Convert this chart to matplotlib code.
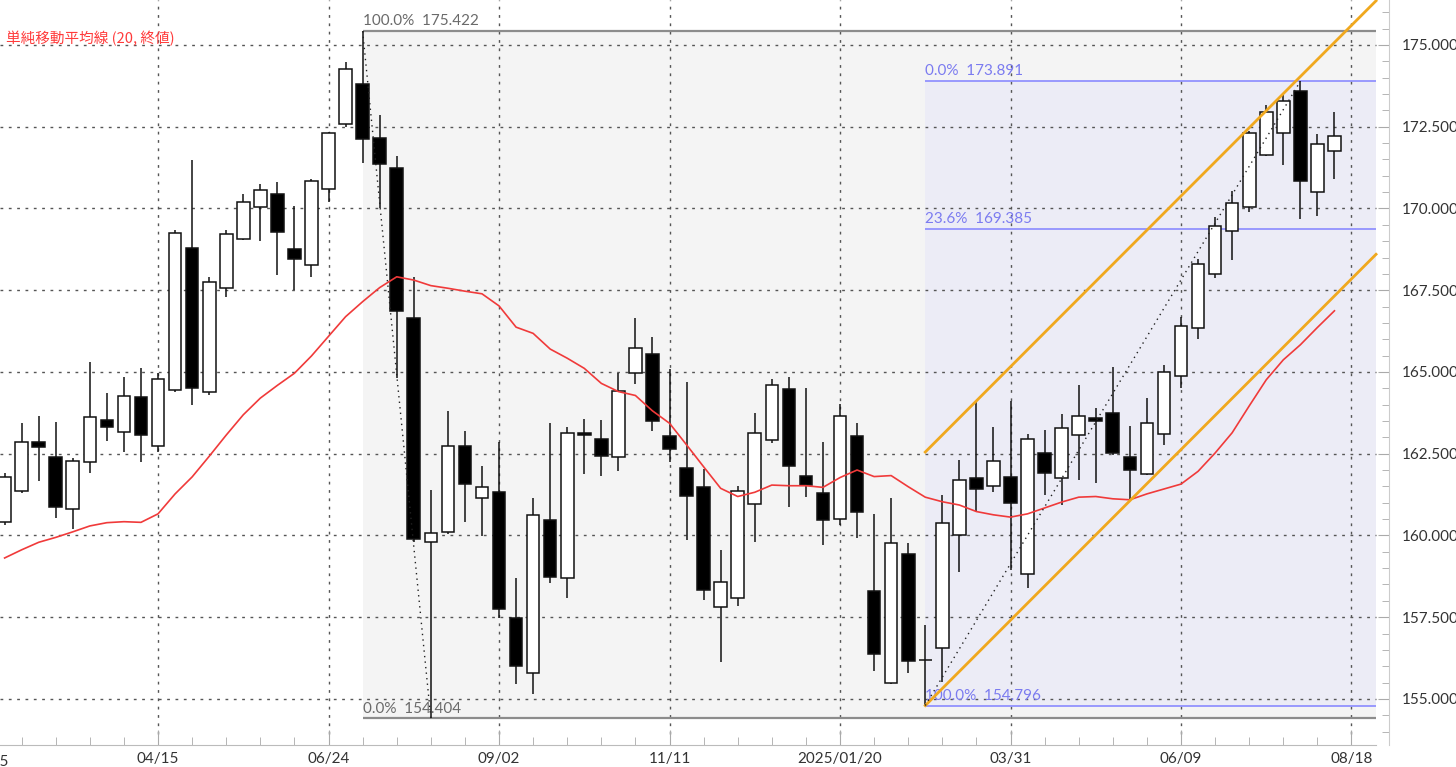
import numpy as np
import matplotlib
matplotlib.use("Agg")
import matplotlib.pyplot as plt
from matplotlib.patches import Rectangle

plt.rcParams['font.family'] = ['Lato', 'DejaVu Sans']

# weekly candles, index 0 = week of 2024-04-15 (first one is 2024-02-12)
idx = np.arange(-9, 70)

opens = [160.42, 161.37, 162.87, 162.41, 160.81, 162.24, 163.53, 163.17, 164.23,
         162.72, 164.45, 168.78, 164.38, 167.58, 169.06, 170.04, 170.44, 168.75, 168.27,
         170.60, 172.58, 173.80, 172.15, 171.23, 166.66, 159.79, 160.09, 162.72, 161.14,
         161.32, 157.47, 155.80, 160.47, 158.69, 163.13, 162.94, 162.39, 164.96, 165.54,
         163.05, 162.05, 161.47, 157.80, 158.08, 160.96, 162.92, 164.48, 161.82, 161.29,
         160.50, 163.05, 158.31, 155.50, 159.42, 156.20, 156.55, 160.02, 161.77, 161.52,
         161.80, 158.82, 162.53, 161.75, 163.07, 163.60, 163.74, 162.39, 161.88, 163.09,
         164.88, 166.34, 168.00, 169.32, 170.06, 171.64, 172.30, 173.59, 170.50, 171.77]
highs = [161.92, 163.43, 163.66, 163.46, 162.36, 165.30, 164.37, 164.86, 165.13,
         164.96, 169.34, 171.48, 167.91, 169.34, 170.43, 170.74, 170.82, 170.08, 170.90,
         172.35, 174.47, 175.422, 172.86, 171.61, 167.91, 161.39, 163.81, 163.18, 162.13,
         162.87, 158.69, 161.14, 163.45, 163.33, 163.56, 163.53, 164.96, 166.64, 166.06,
         165.09, 164.70, 162.02, 159.54, 161.51, 163.74, 164.78, 164.84, 164.52, 162.85,
         164.01, 163.43, 160.65, 161.14, 159.78, 157.26, 161.24, 162.31, 164.12, 163.33,
         164.12, 163.09, 163.23, 163.72, 164.60, 163.89, 165.16, 163.35, 164.20, 165.21,
         166.69, 168.45, 169.75, 170.54, 172.38, 173.17, 173.47, 173.891, 172.28, 172.94]
lows = [160.32, 161.30, 161.65, 160.53, 160.19, 161.92, 162.90, 162.56, 162.26,
        162.56, 164.40, 163.99, 164.30, 167.30, 169.04, 169.02, 167.97, 167.51, 167.91,
        170.21, 172.50, 171.40, 170.00, 164.81, 159.80, 154.404, 160.05, 160.42, 159.98,
        157.48, 155.45, 155.14, 158.56, 158.08, 161.88, 161.82, 161.98, 164.63, 163.18,
        162.26, 159.86, 158.03, 156.14, 157.84, 159.79, 162.82, 160.88, 161.19, 159.71,
        160.32, 159.91, 155.84, 155.45, 155.79, 154.796, 155.53, 158.89, 160.73, 161.34,
        158.94, 158.39, 161.24, 160.93, 161.70, 161.60, 162.46, 161.11, 161.85, 162.77,
        164.50, 166.00, 167.87, 168.43, 169.90, 171.60, 171.33, 169.68, 169.77, 170.90]
closes = [161.80, 162.87, 162.70, 160.86, 162.29, 163.63, 163.31, 164.27, 163.07,
          164.78, 169.24, 164.50, 167.74, 169.21, 170.21, 170.57, 169.27, 168.45, 170.85,
          172.32, 174.26, 172.12, 171.35, 166.87, 159.89, 160.07, 162.72, 161.57, 161.49,
          157.75, 156.01, 160.63, 158.72, 163.14, 163.08, 162.44, 164.43, 165.72, 163.51,
          162.64, 161.21, 158.33, 158.57, 161.37, 163.13, 164.60, 162.13, 161.54, 160.47,
          163.65, 160.71, 156.37, 159.78, 156.17, 156.18, 160.37, 161.70, 161.42, 162.28,
          161.00, 162.94, 161.92, 163.28, 163.66, 163.50, 162.51, 162.00, 163.43, 164.99,
          166.39, 168.29, 169.47, 170.16, 172.32, 172.94, 173.29, 170.84, 171.97, 172.22]
# simple moving average (20, close) as shown on the chart
sma20 = [159.31, 159.56, 159.79, 159.94, 160.11, 160.29, 160.39, 160.42, 160.40,
         160.66, 161.27, 161.79, 162.42, 163.07, 163.69, 164.20, 164.59, 164.96, 165.49,
         166.09, 166.69, 167.15, 167.58, 167.91, 167.81, 167.64, 167.56, 167.47, 167.39,
         167.02, 166.37, 166.18, 165.70, 165.42, 165.11, 164.65, 164.40, 164.28, 163.81,
         163.43, 162.77, 162.10, 161.44, 161.19, 161.32, 161.54, 161.52, 161.52, 161.47,
         161.77, 162.00, 161.80, 161.83, 161.49, 161.17, 161.03, 160.93, 160.73, 160.63,
         160.56, 160.66, 160.84, 161.02, 161.17, 161.19, 161.12, 161.09, 161.27, 161.42,
         161.57, 161.96, 162.52, 163.14, 163.96, 164.76, 165.37, 165.83, 166.36, 166.87]

tick_idx = [0, 10, 20, 30, 40, 50, 60, 70]
tick_labels = ['04/15', '06/24', '09/02', '11/11', '2025/01/20', '03/31', '06/09', '08/18']
cut_label = (-10, '02/05')   # partly off the left edge

# fibonacci retracements
fib1_start, fib1_end = 12, 16
fib1_levels = [175.422, 154.404]
fib1_names = ['100.0%', '0.0%']
fib2_start, fib2_end = 45, 67
fib2_levels = [173.891, 169.385, 154.796]
fib2_names = ['0.0%', '23.6%', '100.0%']

# parallel channel
chan_start = 45
chan_lower0 = 154.796
chan_upper0 = 162.55
chan_slope = 0.522

opens = np.array(opens); closes = np.array(closes)
highs = np.array(highs); lows = np.array(lows)

fig = plt.figure(figsize=(14.56, 7.67), dpi=100)
ax = fig.add_axes([0.0, 22 / 767, 1389 / 1456, 745 / 767])
xmin, xmax = -9.27, 72.2
xend = 71.44          # right end of the drawing area (before the price scale)
ymin, ymax = 153.59, 176.376

# shaded fib zones
ax.add_patch(Rectangle((fib1_start, fib1_levels[1]), xend - fib1_start,
                       fib1_levels[0] - fib1_levels[1], color='#f4f4f4', zorder=0, lw=0))
ax.add_patch(Rectangle((fib2_start, fib2_levels[2]), xend - fib2_start,
                       fib2_levels[0] - fib2_levels[2], color='#ececf6', zorder=0.1, lw=0))

for lv, nm in zip(fib1_levels, fib1_names):
    ax.hlines(lv, fib1_start, xend, color='#8c8c8c', lw=1.6, zorder=1)
    ax.annotate(f'{nm}  {lv:.3f}', (fib1_start, lv), xytext=(0, 2), textcoords='offset points',
                fontsize=11, color='#6a6a6a', va='bottom', ha='left')
for lv, nm in zip(fib2_levels, fib2_names):
    ax.hlines(lv, fib2_start, xend, color='#8a8aff', lw=1.2, zorder=1)
    ax.annotate(f'{nm}  {lv:.3f}', (fib2_start, lv), xytext=(0, 2), textcoords='offset points',
                fontsize=11, color='#7b7bf0', va='bottom', ha='left')

ax.plot([fib1_start, fib1_end], [fib1_levels[0], fib1_levels[1]], color='#222',
        lw=1, ls=(0, (1, 3)), zorder=5)
ax.plot([fib2_start, fib2_end], [fib2_levels[2], fib2_levels[0]], color='#222',
        lw=1, ls=(0, (1, 3)), zorder=5)

# grid (drawn by hand so it stops at the drawing area edge)
grid_style = dict(color='#555555', lw=1, ls=(0, (2, 4)), zorder=0.5)
yticks = np.arange(155, 176, 2.5)
ax.hlines(yticks, xmin, xend, **grid_style)
ax.vlines(tick_idx, ymin + 0.35, ymax, **grid_style)

# candles
up = closes >= opens
ax.vlines(idx, lows, highs, color='#111', lw=1.1, zorder=3)
body_lo = np.minimum(opens, closes)
body_h = np.maximum(np.abs(closes - opens), 0.02)
ax.bar(idx, body_h, bottom=body_lo, width=0.74,
       color=np.where(up, 'white', 'black'), edgecolor='#111', lw=1.1, zorder=3.5)

# SMA
ax.plot(idx, sma20, color='#f03a3a', lw=1.2, zorder=4)

# channel
xs = np.array([chan_start, xend])
ax.plot(xs, chan_lower0 + chan_slope * (xs - chan_start), color='#f0a81e', lw=2, zorder=4)
ax.plot(xs, chan_upper0 + chan_slope * (xs - chan_start), color='#f0a81e', lw=2, zorder=4)

# ticks
ax.set_yticks(yticks)
ax.set_yticks(np.arange(154, 176.1, 0.5), minor=True)
ax.set_xticks(tick_idx)
ax.set_xticklabels(tick_labels)
ax.set_xticks(np.arange(-8, 72, 2), minor=True)
ax.set_xlim(xmin, xmax)
ax.set_ylim(ymin, ymax)

ax.text(0.004, 0.948, '単純移動平均線 (20, 終値)', transform=ax.transAxes, fontsize=10.5,
        color='#ff3b3b', va='center', ha='left',
        family=['Noto Sans CJK JP', 'DejaVu Sans'])

for s in ['top', 'left']:
    ax.spines[s].set_visible(False)
ax.spines['right'].set_color('#cccccc')
ax.spines['bottom'].set_color('#bbbbbb')
ax.spines['bottom'].set_bounds(xmin, xend)
ax.yaxis.tick_right()
ax.yaxis.set_major_formatter(matplotlib.ticker.FormatStrFormatter('%.3f'))
ax.tick_params(axis='y', which='both', direction='in', colors='#aaaaaa', labelcolor='#333333',
               labelsize=11, pad=9)
ax.tick_params(axis='y', which='major', length=8)
ax.tick_params(axis='y', which='minor', length=5)
ax.tick_params(axis='x', which='both', direction='in', colors='#aaaaaa', labelcolor='#333333',
               labelsize=11, pad=5)
ax.tick_params(axis='x', which='major', length=11)
ax.tick_params(axis='x', which='minor', length=6)
ax.text(cut_label[0], -0.0135, cut_label[1], transform=ax.get_xaxis_transform(), ha='center',
        va='top', fontsize=11, color='#333333', clip_on=False)

fig.savefig('out.png', dpi=100, facecolor='white')
